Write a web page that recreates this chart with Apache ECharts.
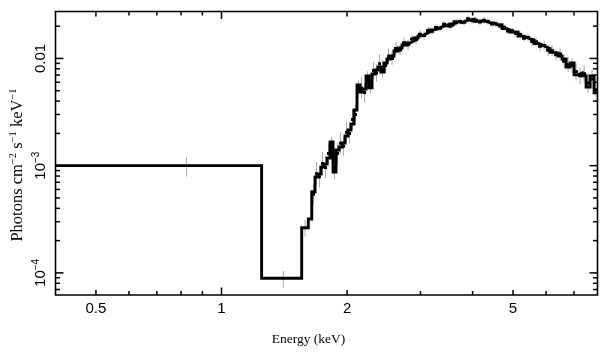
<!DOCTYPE html>
<html><head><meta charset="utf-8">
<script src="https://cdn.jsdelivr.net/npm/echarts@6/dist/echarts.min.js"></script>
<style>html,body{margin:0;padding:0;background:#fff}#c{width:609px;height:357px}</style>
</head><body><div id="c"></div>
<script>
// ---- axis ranges ----
const X_MIN = 0.40, X_MAX = 7.97;
const Y_MIN = 6.22e-5, Y_MAX = 0.0274;

// ---- model step bins (keV edges) and values (photons cm^-2 s^-1 keV^-1) ----
const binEdges = [0.40, 1.248, 1.557, 1.615,
  1.646, 1.676, 1.704, 1.732, 1.761, 1.791, 1.821, 1.851, 1.882, 1.914, 1.946, 1.978,
  2.011, 2.044, 2.078, 2.113, 2.149, 2.184, 2.221, 2.258, 2.296, 2.334, 2.373, 2.413,
  2.454, 2.495, 2.536, 2.592, 2.650, 2.709, 2.770, 2.832, 2.895, 2.960, 3.026, 3.093,
  3.162, 3.233, 3.305, 3.379, 3.455, 3.531, 3.610, 3.691, 3.774, 3.858, 3.944, 4.032,
  4.122, 4.214, 4.308, 4.404, 4.503, 4.604, 4.706, 4.811, 4.919, 5.029, 5.141, 5.256,
  5.373, 5.493, 5.615, 5.741, 5.870, 6.001, 6.134, 6.272, 6.412, 6.555, 6.701, 6.851,
  7.004, 7.160, 7.320, 7.484, 7.650, 7.822, 7.996];
const modelVals = [1.0e-3, 8.9e-5, 2.64e-4, 3.18e-4,
  5.72e-4, 7.84e-4, 8.37e-4, 9.73e-4, 1.037e-3, 1.180e-3, 1.664e-3, 8.73e-4, 1.401e-3, 1.494e-3,
  1.628e-3, 1.892e-3, 2.153e-3, 2.449e-3, 3.308e-3, 5.66e-3, 4.87e-3, 5.19e-3, 6.87e-3, 5.31e-3,
  7.17e-3, 7.81e-3, 8.33e-3, 7.48e-3, 9.08e-3, 9.89e-3, 1.055e-2, 1.175e-2, 1.253e-2, 1.336e-2,
  1.395e-2, 1.456e-2, 1.553e-2, 1.622e-2, 1.693e-2, 1.767e-2, 1.845e-2, 1.885e-2, 1.967e-2, 2.03e-2,
  1.99e-2, 2.098e-2, 2.20e-2, 2.15e-2, 2.238e-2, 2.286e-2, 2.32e-2, 2.22e-2, 2.238e-2, 2.22e-2,
  2.16e-2, 2.144e-2, 2.054e-2, 2.06e-2, 1.90e-2, 1.845e-2, 1.767e-2, 1.76e-2, 1.62e-2, 1.586e-2,
  1.520e-2, 1.49e-2, 1.38e-2, 1.336e-2, 1.280e-2, 1.24e-2, 1.14e-2, 1.125e-2, 1.055e-2, 9.89e-3,
  8.33e-3, 9.08e-3, 7.02e-3, 7.32e-3, 6.87e-3, 5.42e-3, 6.87e-3, 4.77e-3];
// measured flux in each bin from 1.646 keV upward
const dataVals = [5.4e-4, 8.4e-4, 7.9e-4, 1.05e-3, 9.6e-4, 1.30e-3, 1.50e-3, 9.6e-4, 1.30e-3, 1.62e-3,
  1.52e-3, 2.05e-3, 2.00e-3, 2.70e-3, 3.00e-3, 5.2e-3, 5.3e-3, 4.8e-3, 6.3e-3, 5.8e-3,
  7.7e-3, 7.3e-3, 8.9e-3, 8.0e-3, 8.6e-3, 1.05e-2, 1.00e-2, 1.24e-2, 1.20e-2, 1.40e-2,
  1.34e-2, 1.52e-2, 1.49e-2, 1.68e-2, 1.64e-2, 1.82e-2, 1.79e-2, 1.94e-2, 1.91e-2, 2.08e-2,
  2.05e-2, 2.04e-2, 2.15e-2, 2.21e-2, 2.18e-2, 2.34e-2, 2.26e-2, 2.27e-2, 2.19e-2, 2.27e-2,
  2.21e-2, 2.09e-2, 2.10e-2, 2.01e-2, 1.95e-2, 1.80e-2, 1.81e-2, 1.71e-2, 1.67e-2, 1.54e-2,
  1.57e-2, 1.44e-2, 1.43e-2, 1.30e-2, 1.32e-2, 1.19e-2, 1.18e-2, 1.08e-2, 1.10e-2, 9.4e-3,
  8.8e-3, 8.6e-3, 7.5e-3, 6.9e-3, 7.2e-3, 5.9e-3, 6.4e-3, 5.1e-3];
// half-length of the error bar (dex) for each measured bin from 1.646 keV upward
const errDex = [0.10, 0.11, 0.10, 0.11, 0.10, 0.10, 0.09, 0.11, 0.10, 0.10, 0.09, 0.10, 0.09, 0.09,
  0.09, 0.08, 0.10, 0.09, 0.08, 0.09, 0.08, 0.08, 0.09, 0.08, 0.07, 0.07, 0.06,
  0.06, 0.05, 0.05, 0.05, 0.04, 0.04, 0.04, 0.04, 0.035, 0.035,
  0.03, 0.03, 0.03, 0.03, 0.03, 0.03, 0.03, 0.03, 0.03, 0.03, 0.03, 0.03, 0.03, 0.03, 0.03, 0.03,
  0.03, 0.03, 0.03, 0.03, 0.03, 0.03, 0.03,
  0.035, 0.04, 0.04, 0.045, 0.045, 0.05, 0.05, 0.05, 0.055, 0.06,
  0.07, 0.07, 0.08, 0.08, 0.08, 0.09, 0.09, 0.10];
const firstMeasuredBin = 4;
// low-energy data points
const lowDataE  = [0.825, 1.407, 1.586];
const lowDataV  = [1.0e-3, 8.9e-5, 2.64e-4];
const lowDataLo = [7.9e-4, 7.2e-5, 2.18e-4];
const lowDataHi = [1.21e-3, 1.04e-4, 3.1e-4];

// ---- ticks ----
const xTicks = [0.5, 0.6, 0.7, 0.8, 0.9, 1, 2, 3, 4, 5, 6, 7];
const xLabelVals = [0.5, 1, 2, 5];
const xLabelText = ['0.5', '1', '2', '5'];
const yTicks = [7e-5, 8e-5, 9e-5, 1e-4, 2e-4, 3e-4, 4e-4, 5e-4, 6e-4, 7e-4, 8e-4, 9e-4,
  1e-3, 2e-3, 3e-3, 4e-3, 5e-3, 6e-3, 7e-3, 8e-3, 9e-3, 1e-2, 2e-2];
const yMajor = [1e-4, 1e-3, 1e-2];
const yLabelText = ['{b|10}{s|\u22124}', '{b|10}{s|\u22123}', '{b|0.01}'];

// ---- build series data ----
const stepData = [];
for (let i = 0; i < modelVals.length; i++) {
  stepData.push([binEdges[i], modelVals[i]]);
  stepData.push([binEdges[i + 1], modelVals[i]]);
}
const errData = [];   // [x, lo, hi]
const barData = [];   // [xlo, xhi, y]
for (let i = 0; i < lowDataE.length; i++) errData.push([lowDataE[i], lowDataLo[i], lowDataHi[i]]);
for (let k = 0; k < errDex.length; k++) {
  const i = firstMeasuredBin + k;
  const c = Math.sqrt(binEdges[i] * binEdges[i + 1]);
  const f = Math.pow(10, errDex[k]);
  errData.push([c, dataVals[k] / f, dataVals[k] * f]);
  barData.push([binEdges[i], binEdges[i + 1], dataVals[k]]);
}

const SANS = 'Liberation Sans, Arial, Helvetica, sans-serif';
const SERIF = 'Liberation Serif, Times New Roman, serif';
const richLab = {
  b: {fontSize: 15, fontFamily: SANS, color: '#000', lineHeight: 17, verticalAlign: 'bottom'},
  s: {fontSize: 10, fontFamily: SANS, color: '#000', lineHeight: 17, verticalAlign: 'top', padding: [0, 0, 6, 0]}
};

const chart = echarts.init(document.getElementById('c'), null, {renderer: 'canvas'});
chart.setOption({
  animation: false,
  backgroundColor: '#fff',
  grid: {left: 55.5, right: 11.5, top: 11.5, bottom: 62, show: true, borderColor: '#000', borderWidth: 1.6, backgroundColor: 'transparent'},
  xAxis: {type: 'log', logBase: 10, min: X_MIN, max: X_MAX,
    axisLine: {show: false}, axisTick: {show: false}, axisLabel: {show: false}, splitLine: {show: false}, minorTick: {show: false}},
  yAxis: {type: 'log', logBase: 10, min: Y_MIN, max: Y_MAX,
    axisLine: {show: false}, axisTick: {show: false}, axisLabel: {show: false}, splitLine: {show: false}, minorTick: {show: false}},
  graphic: [
    {type: 'text', x: 308.5, y: 339, style: {text: 'Energy (keV)', font: '13.5px ' + SERIF, fill: '#000', align: 'center', verticalAlign: 'middle'}},
    {type: 'text', x: 17, y: 165, rotation: Math.PI / 2,
      style: {text: '{n|Photons cm}{s|\u22122}{n| s}{s|\u22121}{n| keV}{s|\u22121}', align: 'center', verticalAlign: 'middle', fill: '#000',
        rich: {
          n: {fontSize: 16.5, fontFamily: SERIF, color: '#000', lineHeight: 18, verticalAlign: 'bottom'},
          s: {fontSize: 10.5, fontFamily: SERIF, color: '#000', lineHeight: 18, verticalAlign: 'top', padding: [0, 0, 6, 0]}
        }}}
  ],
  series: [
    {type: 'custom', name: 'errors', z: 2, clip: true, data: errData,
      renderItem: function (params, api) {
        const a = api.coord([api.value(0), api.value(1)]);
        const b = api.coord([api.value(0), api.value(2)]);
        return {type: 'line', shape: {x1: a[0], y1: a[1], x2: b[0], y2: b[1]}, style: {stroke: '#a8a8a8', lineWidth: 1}};
      }},
    {type: 'custom', name: 'data', z: 3, clip: true, data: barData,
      renderItem: function (params, api) {
        const a = api.coord([api.value(0), api.value(2)]);
        const b = api.coord([api.value(1), api.value(2)]);
        return {type: 'line', shape: {x1: a[0], y1: a[1], x2: b[0], y2: b[1]}, style: {stroke: '#000', lineWidth: 3}};
      }},
    {type: 'line', name: 'model', z: 4, data: stepData, showSymbol: false, symbol: 'none', clip: true,
      lineStyle: {color: '#000', width: 2.9, join: 'miter'}},
    {type: 'custom', name: 'xticks', z: 5, clip: false, data: xTicks.map(v => [v]),
      renderItem: function (params, api) {
        const v = api.value(0);
        const b = api.coord([v, Y_MIN]);
        const t = api.coord([v, Y_MAX]);
        const len = v === 1 ? 7.5 : (xLabelVals.indexOf(v) >= 0 ? 5 : 4);
        const st = {stroke: '#000', lineWidth: 1.5};
        const children = [
          {type: 'line', shape: {x1: b[0], y1: b[1], x2: b[0], y2: b[1] - len}, style: st},
          {type: 'line', shape: {x1: t[0], y1: t[1], x2: t[0], y2: t[1] + len}, style: st}
        ];
        const li = xLabelVals.indexOf(v);
        if (li >= 0) children.push({type: 'text', x: b[0], y: b[1] + 14,
          style: {text: xLabelText[li], font: '15px ' + SANS, fill: '#000', align: 'center', verticalAlign: 'middle'}});
        return {type: 'group', children: children};
      }},
    {type: 'custom', name: 'yticks', z: 5, clip: false, data: yTicks.map(v => [X_MIN, v]),
      renderItem: function (params, api) {
        const v = api.value(1);
        const l = api.coord([X_MIN, v]);
        const r = api.coord([X_MAX, v]);
        const mi = yMajor.indexOf(v);
        const len = mi >= 0 ? 8 : 4.5;
        const st = {stroke: '#000', lineWidth: 1.5};
        const children = [
          {type: 'line', shape: {x1: l[0], y1: l[1], x2: l[0] + len, y2: l[1]}, style: st},
          {type: 'line', shape: {x1: r[0], y1: r[1], x2: r[0] - len, y2: r[1]}, style: st}
        ];
        if (mi >= 0) children.push({type: 'text', x: l[0] - 15.5, y: l[1], rotation: Math.PI / 2,
          style: {text: yLabelText[mi], rich: richLab, align: 'center', verticalAlign: 'middle', fill: '#000'}});
        return {type: 'group', children: children};
      }}
  ]
});
</script></body></html>
